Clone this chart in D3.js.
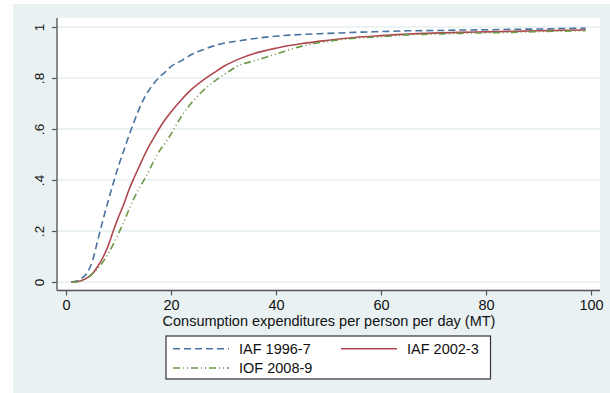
<!DOCTYPE html>
<html>
<head>
<meta charset="utf-8">
<script src="https://cdn.jsdelivr.net/npm/d3@7"></script>
<style>
  html, body { margin: 0; padding: 0; background: #ffffff; }
  svg { display: block; }
  text { font-family: "Liberation Sans", Arial, sans-serif; fill: #111; }
</style>
</head>
<body>
<svg id="chart" width="610" height="393"></svg>
<script>
// Consumption expenditure points (MT per person per day)
const expenditure = [1,2,3,4,5,6,7,8,9,10,11,12,13,14,15,16,17,18,19,20,22,24,26,28,30,33,36,40,45,50,55,60,65,70,75,80,85,90,95,99];

// Cumulative share of population for each survey
const iaf1996 = [0,0.004,0.015,0.035,0.08,0.16,0.24,0.315,0.387,0.455,0.515,0.575,0.63,0.682,0.725,0.758,0.785,0.808,0.825,0.845,0.868,0.893,0.91,0.925,0.936,0.946,0.955,0.964,0.971,0.975,0.979,0.982,0.985,0.986,0.988,0.989,0.991,0.992,0.994,0.995];
const iaf2002 = [0,0.001,0.006,0.016,0.032,0.06,0.095,0.14,0.2,0.255,0.305,0.362,0.41,0.455,0.5,0.54,0.575,0.61,0.64,0.667,0.715,0.757,0.79,0.818,0.845,0.875,0.897,0.917,0.935,0.948,0.959,0.966,0.972,0.976,0.979,0.981,0.983,0.985,0.987,0.988];
const iof2008 = [0,0.001,0.006,0.016,0.032,0.052,0.078,0.11,0.148,0.19,0.235,0.285,0.33,0.37,0.405,0.445,0.485,0.52,0.548,0.58,0.65,0.705,0.748,0.783,0.812,0.85,0.868,0.894,0.925,0.944,0.956,0.962,0.969,0.972,0.975,0.977,0.979,0.982,0.984,0.986];

const seriesNames = ["IAF 1996-7", "IAF 2002-3", "IOF 2008-9"];
const xTicks = [0, 20, 40, 60, 80, 100];
const yTicks = [0, 0.2, 0.4, 0.6, 0.8, 1];
const yTickLabels = ["0", ".2", ".4", ".6", ".8", "1"];
const xTitle = "Consumption expenditures per person per day (MT)";

const svg = d3.select("#chart");

// outer graph region
svg.append("rect").attr("x", 13).attr("y", 4).attr("width", 597).attr("height", 389).attr("fill", "#e9f1f3");

// plot region
const plot = { left: 58, right: 600, top: 18, bottom: 289.5 };
svg.append("rect").attr("x", plot.left).attr("y", plot.top)
  .attr("width", plot.right - plot.left).attr("height", plot.bottom - plot.top).attr("fill", "#ffffff");

const x = d3.scaleLinear().domain([0, 100]).range([66, 591]);
const y = d3.scaleLinear().domain([0, 1]).range([282, 27]);

// horizontal grid
svg.append("g").selectAll("line").data(yTicks).join("line")
  .attr("x1", plot.left).attr("x2", plot.right)
  .attr("y1", d => y(d)).attr("y2", d => y(d))
  .attr("stroke", "#e6eff2").attr("stroke-width", 1.5);

// y axis
const yAxis = svg.append("g").attr("transform", "translate(57,0)")
  .call(d3.axisLeft(y).tickValues(yTicks).tickSize(5).tickPadding(0)
    .tickFormat((d, i) => yTickLabels[i]));
yAxis.select(".domain").attr("d", `M0,${plot.top}V${plot.bottom + 1}`).attr("stroke", "#555").attr("stroke-width", 1.3);
yAxis.selectAll(".tick line").attr("stroke", "#555").attr("stroke-width", 1.2);
yAxis.selectAll(".tick text")
  .attr("x", 0).attr("dy", null)
  .attr("transform", "translate(-13,0) rotate(-90)")
  .attr("text-anchor", "middle")
  .style("font-size", "13.5px").style("font-family", "'Liberation Sans', Arial, sans-serif").attr("fill", "#111");

// x axis
const xAxis = svg.append("g").attr("transform", "translate(0,290.5)")
  .call(d3.axisBottom(x).tickValues(xTicks).tickSize(5).tickPadding(4).tickFormat(d3.format("d")));
xAxis.select(".domain").attr("d", `M${plot.left - 1},0H${plot.right}`).attr("stroke", "#555").attr("stroke-width", 1.3);
xAxis.selectAll(".tick line").attr("stroke", "#555").attr("stroke-width", 1.2);
xAxis.selectAll(".tick text")
  .style("font-size", "14.5px").style("font-family", "'Liberation Sans', Arial, sans-serif").attr("fill", "#111");

svg.append("text").attr("x", 329).attr("y", 326).attr("text-anchor", "middle")
  .style("font-size", "14.5px").text(xTitle);

// series lines
const styles = [
  { color: "#4a72a0", dash: "7,4" },
  { color: "#b0464e", dash: null },
  { color: "#6c9746", dash: "7,3,1,3,1,3" }
];
const seriesData = [iaf1996, iaf2002, iof2008];
const line = d3.line().x((d, i) => x(expenditure[i])).y(d => y(d)).curve(d3.curveMonotoneX);

seriesData.forEach((vals, k) => {
  svg.append("path").datum(vals)
    .attr("d", line)
    .attr("fill", "none")
    .attr("stroke", styles[k].color)
    .attr("stroke-width", 1.6)
    .attr("stroke-dasharray", styles[k].dash);
});

// legend
const lg = svg.append("g");
lg.append("rect").attr("x", 166).attr("y", 336).attr("width", 324.5).attr("height", 43)
  .attr("fill", "#ffffff").attr("stroke", "#333").attr("stroke-width", 1.2);
const legendPos = [
  { lx: 173, ly: 348.7 },
  { lx: 341, ly: 348.7 },
  { lx: 173, ly: 368 }
];
legendPos.forEach((p, k) => {
  lg.append("line").attr("x1", p.lx).attr("x2", p.lx + 56).attr("y1", p.ly).attr("y2", p.ly)
    .attr("stroke", styles[k].color).attr("stroke-width", 1.6).attr("stroke-dasharray", styles[k].dash);
  lg.append("text").attr("x", p.lx + 66).attr("y", p.ly).attr("dy", "0.36em")
    .style("font-size", "14.5px").text(seriesNames[k]);
});
</script>
</body>
</html>
